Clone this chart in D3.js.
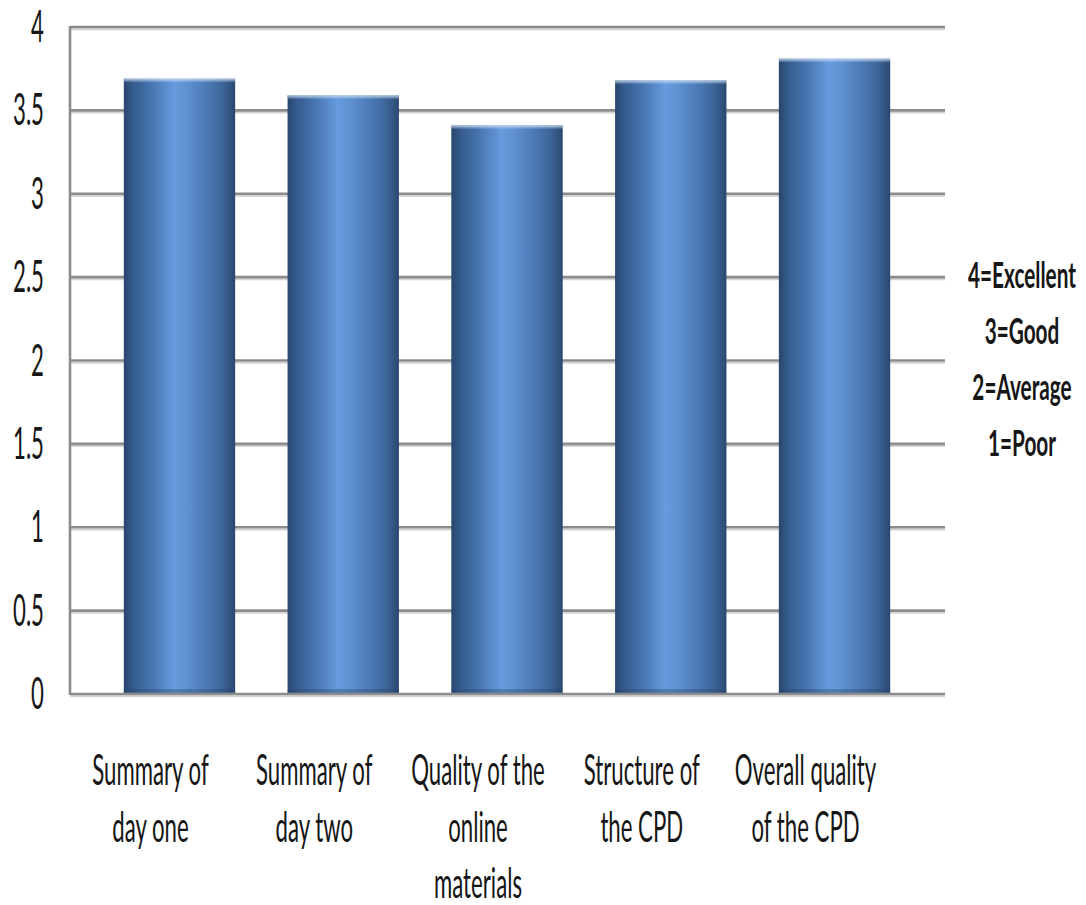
<!DOCTYPE html>
<html>
<head>
<meta charset="utf-8">
<script src="https://cdn.jsdelivr.net/npm/d3@7"></script>
<style>
  html, body { margin: 0; padding: 0; background: #ffffff; }
  svg { display: block; }
  text { font-family: Lato, "Open Sans", sans-serif; fill: #161616; }
</style>
</head>
<body>
<svg id="chart" width="1086" height="905"></svg>
<script>
// Mean rating per feedback item
const categories = [
  ["Summary of", "day one"],
  ["Summary of", "day two"],
  ["Quality of the", "online", "materials"],
  ["Structure of", "the CPD"],
  ["Overall quality", "of the CPD"]
];
const values = [3.69, 3.59, 3.41, 3.68, 3.81];
const yTicks = [0, 0.5, 1, 1.5, 2, 2.5, 3, 3.5, 4];
const yTickLabels = ["0", "0.5", "1", "1.5", "2", "2.5", "3", "3.5", "4"];
const ratingKey = ["4=Excellent", "3=Good", "2=Average", "1=Poor"];

const svg = d3.select("#chart");

const plot = { left: 70, right: 945, top: 27, bottom: 694 };

const y = d3.scaleLinear().domain([0, 4]).range([plot.bottom, plot.top]);
const x = d3.scaleBand()
  .domain(d3.range(values.length))
  .range([97.6, 916.4])
  .paddingInner(0.32)
  .paddingOuter(0.16);

// Text is drawn tall and narrow
const SX = 0.74, SY = 1.42;

// Bar gradient: dark edges, light stripe just left of centre
const defs = svg.append("defs");
const grad = defs.append("linearGradient").attr("id", "barGrad")
  .attr("x1", "0%").attr("x2", "100%").attr("y1", "0%").attr("y2", "0%");
[
  [0, "#29466d"], [0.08, "#345b8c"], [0.25, "#4775b1"], [0.45, "#679bde"],
  [0.55, "#6193d3"], [0.75, "#4a79b5"], [0.9, "#3b6395"], [1, "#2a4870"]
].forEach(([o, c]) => grad.append("stop").attr("offset", o).attr("stop-color", c));

const topGrad = defs.append("linearGradient").attr("id", "topGrad")
  .attr("x1", "0%").attr("x2", "0%").attr("y1", "0%").attr("y2", "100%");
topGrad.append("stop").attr("offset", 0).attr("stop-color", "#c8daf2").attr("stop-opacity", 0.9);
topGrad.append("stop").attr("offset", 1).attr("stop-color", "#c8daf2").attr("stop-opacity", 0);

// Slight softening, in user space so thin lines keep a valid filter region
const soft = defs.append("filter").attr("id", "soft")
  .attr("filterUnits", "userSpaceOnUse")
  .attr("x", 0).attr("y", 0).attr("width", 1086).attr("height", 905);
soft.append("feGaussianBlur").attr("stdDeviation", 0.6);

// Gridlines with a light drop shadow
const grid = svg.append("g").attr("filter", "url(#soft)");
grid.selectAll("line.shadow").data(yTicks.filter(d => d > 0)).join("line")
  .attr("class", "shadow")
  .attr("x1", plot.left).attr("x2", plot.right)
  .attr("y1", d => y(d) + 2.2).attr("y2", d => y(d) + 2.2)
  .attr("stroke", "#d4d4d4").attr("stroke-width", 2);
grid.selectAll("line.main").data(yTicks.filter(d => d > 0)).join("line")
  .attr("class", "main")
  .attr("x1", plot.left).attr("x2", plot.right)
  .attr("y1", d => y(d)).attr("y2", d => y(d))
  .attr("stroke", "#8c8c8c").attr("stroke-width", 2.6);

// Bars
const bars = svg.append("g").attr("filter", "url(#soft)");
bars.selectAll("rect.bar").data(values).join("rect")
  .attr("class", "bar")
  .attr("x", (d, i) => x(i))
  .attr("y", d => y(d))
  .attr("width", x.bandwidth())
  .attr("height", d => y(0) - y(d))
  .attr("fill", "url(#barGrad)");
bars.selectAll("rect.hl").data(values).join("rect")
  .attr("class", "hl")
  .attr("x", (d, i) => x(i))
  .attr("y", d => y(d))
  .attr("width", x.bandwidth())
  .attr("height", 4)
  .attr("fill", "url(#topGrad)");
bars.selectAll("rect.base").data(values).join("rect")
  .attr("class", "base")
  .attr("x", (d, i) => x(i))
  .attr("y", y(0) - 5)
  .attr("width", x.bandwidth())
  .attr("height", 5)
  .attr("fill", "#2a4668").attr("opacity", 0.35);

// Axis lines
const axes = svg.append("g").attr("filter", "url(#soft)");
axes.append("line")
  .attr("x1", plot.left).attr("x2", plot.left)
  .attr("y1", plot.top - 1).attr("y2", plot.bottom + 1)
  .attr("stroke", "#8c8c8c").attr("stroke-width", 2.6);
axes.append("line")
  .attr("x1", plot.left).attr("x2", plot.right)
  .attr("y1", plot.bottom + 2.2).attr("y2", plot.bottom + 2.2)
  .attr("stroke", "#d4d4d4").attr("stroke-width", 2);
axes.append("line")
  .attr("x1", plot.left).attr("x2", plot.right)
  .attr("y1", plot.bottom).attr("y2", plot.bottom)
  .attr("stroke", "#8c8c8c").attr("stroke-width", 2.6);

// Y tick labels
svg.append("g").selectAll("text").data(yTicks).join("text")
  .attr("transform", (d, i) => `translate(44, ${y(d) + 15}) scale(${SX}, ${SY + 0.06})`)
  .attr("text-anchor", "end")
  .attr("font-size", 30)
  .text((d, i) => yTickLabels[i]);

// Category labels, wrapped onto several lines
const LABEL_SHIFT = -29;
const catG = svg.append("g");
categories.forEach((lines, i) => {
  const cx = x(i) + x.bandwidth() / 2 + LABEL_SHIFT;
  catG.selectAll(null).data(lines).join("text")
    .attr("transform", (d, j) => `translate(${cx}, ${785 + j * 56.5}) scale(${SX}, ${SY})`)
    .attr("text-anchor", "middle")
    .attr("font-size", 30)
    .text(d => d);
});

// Rating scale key
svg.append("g").selectAll("text").data(ratingKey).join("text")
  .attr("transform", (d, i) => `translate(1022, ${288 + i * 56}) scale(${SX * 1.1}, ${SY})`)
  .attr("text-anchor", "middle")
  .attr("font-size", 25.5)
  .attr("font-weight", "bold")
  .text(d => d);
</script>
</body>
</html>
